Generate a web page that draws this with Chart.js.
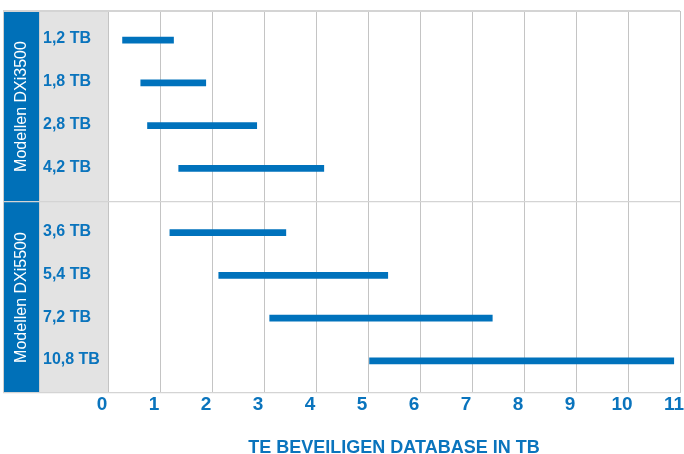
<!DOCTYPE html>
<html>
<head>
<meta charset="utf-8">
<script src="https://cdn.jsdelivr.net/npm/chart.js@4/dist/chart.umd.min.js"></script>
<style>
  html, body { margin: 0; padding: 0; background: #ffffff; }
  #wrap { width: 684px; height: 454px; }
</style>
</head>
<body>
<div id="wrap"><canvas id="c" width="684" height="454"></canvas></div>
<script>
// ---- data ----
const categories = ["1,2 TB", "1,8 TB", "2,8 TB", "4,2 TB", "3,6 TB", "5,4 TB", "7,2 TB", "10,8 TB"];
const rangeStart = [0.28, 0.63, 0.76, 1.36, 1.19, 2.13, 3.11, 5.03];
const rangeEnd   = [1.26, 1.88, 2.86, 4.15, 3.42, 5.38, 7.39, 10.88];
const groupNames = ["Modellen DXi3500", "Modellen DXi5500"];
const groupSizes = [4, 4];
const xTicks = [0, 1, 2, 3, 4, 5, 6, 7, 8, 9, 10, 11];
const xTitle = "TE BEVEILIGEN DATABASE IN TB";

// ---- layout / styles ----
const GROUP_GAP = 0.5;          // extra row space between the two groups
const Y_MIN = -0.68, Y_MAX = 8.25;
const BAR_BLUE = "#0072bc";
const TEXT_BLUE = "#0a74bd";
const PANEL_BLUE = "#0070b8";
const PANEL_GRAY = "#e3e3e3";
const GRID = "#c4c4c4";
const HLINE = "#d4d4d4";
const FONT = "'Liberation Sans', Arial, Helvetica, sans-serif";

// row index -> row slot on the y scale (rows of later groups shifted by the gap)
const rowGroup = [];
groupSizes.forEach((s, g) => { for (let k = 0; k < s; k++) rowGroup.push(g); });
const rowSlot = categories.map((_, i) => i + GROUP_GAP * rowGroup[i]);
const Y_MID = (Y_MIN + Y_MAX) / 2;
const boundaries = [Y_MIN, Y_MID, Y_MAX];
const labelAt = new Map(rowSlot.map((s, i) => [s, categories[i]]));
const isBoundary = (ctx) => ctx.tick && boundaries.includes(ctx.tick.value);

const panelPlugin = {
  id: 'panels',
  beforeDraw(chart) {
    const { ctx, chartArea } = chart;
    const y = chart.scales.y;
    const top = chartArea.top, bottom = chartArea.bottom;
    ctx.save();
    ctx.fillStyle = PANEL_BLUE;
    ctx.fillRect(3, top, 36, bottom - top);
    ctx.fillStyle = PANEL_GRAY;
    ctx.fillRect(39, top, chartArea.left - 39, bottom - top);
    ctx.strokeStyle = "#cfcfcf";
    ctx.lineWidth = 1;
    ctx.beginPath();
    ctx.moveTo(3.5, top); ctx.lineTo(3.5, bottom);
    ctx.moveTo(39.5, top); ctx.lineTo(39.5, bottom);
    ctx.stroke();
    ctx.fillStyle = "#ffffff";
    ctx.font = "16px " + FONT;
    ctx.textAlign = "center";
    ctx.textBaseline = "middle";
    groupNames.forEach((name, g) => {
      const cy = (y.getPixelForValue(boundaries[g]) + y.getPixelForValue(boundaries[g + 1])) / 2;
      ctx.save();
      ctx.translate(21.5, cy);
      ctx.rotate(-Math.PI / 2);
      ctx.fillText(name, 0, 0);
      ctx.restore();
    });
    ctx.restore();
  }
};

Chart.defaults.font.family = FONT;

new Chart(document.getElementById('c'), {
  type: 'bar',
  data: {
    datasets: [{
      data: categories.map((_, i) => ({ x: [rangeStart[i], rangeEnd[i]], y: rowSlot[i] })),
      backgroundColor: BAR_BLUE,
      borderWidth: 0,
      barThickness: 6
    }]
  },
  options: {
    indexAxis: 'y',
    responsive: false,
    animation: false,
    devicePixelRatio: 1,
    layout: { padding: { left: 43, right: 4, top: 11, bottom: 0 } },
    plugins: { legend: { display: false }, tooltip: { enabled: false } },
    scales: {
      x: {
        type: 'linear',
        min: xTicks[0],
        max: xTicks[xTicks.length - 1],
        afterBuildTicks: (s) => { s.ticks = xTicks.map(v => ({ value: v })); },
        afterFit: (s) => { s.paddingLeft = 0; s.paddingRight = 0; },
        grid: { color: GRID, lineWidth: 1, drawTicks: false },
        border: { display: false },
        ticks: {
          color: TEXT_BLUE,
          font: { size: 19, weight: 'bold' },
          padding: 0,
          labelOffset: -6,
          maxRotation: 0,
          autoSkip: false
        },
        title: {
          display: true,
          text: xTitle,
          color: TEXT_BLUE,
          font: { size: 18, weight: 'bold', lineHeight: 0.7 },
          padding: { top: 25.6, bottom: 0 }
        }
      },
      y: {
        type: 'linear',
        reverse: true,
        offset: false,
        bounds: 'data',
        min: Y_MIN,
        max: Y_MAX,
        afterBuildTicks: (s) => {
          s.ticks = [...boundaries, ...rowSlot].sort((a, b) => a - b).map(v => ({ value: v }));
        },
        afterFit: (s) => { s.width = 65; s.paddingTop = 0; s.paddingBottom = 0; },
        grid: {
          offset: false,
          tickLength: 105,
          color: (ctx) => isBoundary(ctx) ? HLINE : 'rgba(0,0,0,0)',
          tickColor: (ctx) => isBoundary(ctx) ? HLINE : 'rgba(0,0,0,0)',
          lineWidth: (ctx) => (ctx.tick && ctx.tick.value === Y_MIN) ? 2 : 1.3,
          tickWidth: (ctx) => (ctx.tick && ctx.tick.value === Y_MIN) ? 2 : 1.3
        },
        border: { display: false },
        ticks: {
          color: TEXT_BLUE,
          font: { size: 16, weight: 'bold' },
          crossAlign: 'far',
          labelOffset: -1,
          autoSkip: false,
          callback: (value) => labelAt.get(value) || ''
        }
      }
    }
  },
  plugins: [panelPlugin]
});
</script>
</body>
</html>
